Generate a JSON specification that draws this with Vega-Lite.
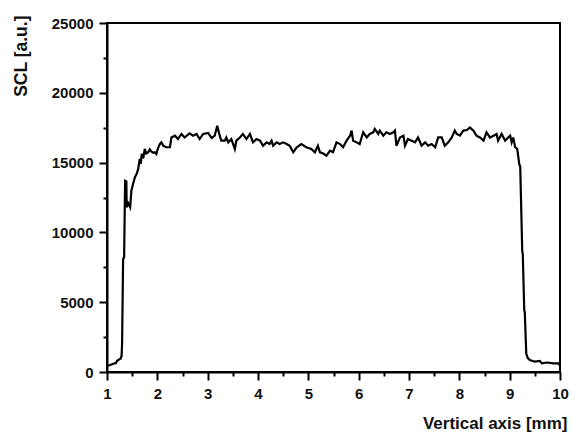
{
  "$schema": "https://vega.github.io/schema/vega-lite/v6.json",
  "autosize": "none",
  "width": 453,
  "height": 349,
  "padding": {"left": 107, "top": 23, "right": 15, "bottom": 60},
  "background": "white",
  "config": {
    "view": {"stroke": "black", "strokeWidth": 2},
    "font": "Liberation Sans"
  },
  "data": {"values": [
    {"mm": 1.0, "scl": 450}, {"mm": 1.05, "scl": 480}, {"mm": 1.1, "scl": 550}, {"mm": 1.15, "scl": 620},
    {"mm": 1.18, "scl": 640}, {"mm": 1.2, "scl": 800}, {"mm": 1.24, "scl": 900}, {"mm": 1.27, "scl": 950},
    {"mm": 1.29, "scl": 1150}, {"mm": 1.3, "scl": 2050}, {"mm": 1.32, "scl": 8100}, {"mm": 1.34, "scl": 8200},
    {"mm": 1.36, "scl": 13700}, {"mm": 1.385, "scl": 13650}, {"mm": 1.39, "scl": 11800}, {"mm": 1.42, "scl": 12100},
    {"mm": 1.46, "scl": 11800}, {"mm": 1.485, "scl": 13000}, {"mm": 1.52, "scl": 13500}, {"mm": 1.555, "scl": 13950},
    {"mm": 1.59, "scl": 14200}, {"mm": 1.62, "scl": 14550}, {"mm": 1.65, "scl": 15260}, {"mm": 1.67, "scl": 14900},
    {"mm": 1.69, "scl": 15620}, {"mm": 1.72, "scl": 15300}, {"mm": 1.75, "scl": 15980}, {"mm": 1.78, "scl": 15650},
    {"mm": 1.82, "scl": 15740}, {"mm": 1.85, "scl": 15950}, {"mm": 1.88, "scl": 15800}, {"mm": 1.92, "scl": 15700},
    {"mm": 1.95, "scl": 15740}, {"mm": 1.98, "scl": 15620}, {"mm": 2.01, "scl": 16000}, {"mm": 2.05, "scl": 16330},
    {"mm": 2.08, "scl": 16450}, {"mm": 2.12, "scl": 16200}, {"mm": 2.18, "scl": 16100}, {"mm": 2.25, "scl": 16100},
    {"mm": 2.28, "scl": 16800}, {"mm": 2.35, "scl": 16930}, {"mm": 2.41, "scl": 16690}, {"mm": 2.48, "scl": 17050},
    {"mm": 2.54, "scl": 16800}, {"mm": 2.64, "scl": 17100}, {"mm": 2.71, "scl": 16930}, {"mm": 2.78, "scl": 17050},
    {"mm": 2.84, "scl": 16690}, {"mm": 2.91, "scl": 17050}, {"mm": 3.01, "scl": 17120}, {"mm": 3.08, "scl": 16760},
    {"mm": 3.14, "scl": 16930}, {"mm": 3.19, "scl": 17640}, {"mm": 3.24, "scl": 16930}, {"mm": 3.27, "scl": 16570},
    {"mm": 3.34, "scl": 16570}, {"mm": 3.37, "scl": 16800}, {"mm": 3.41, "scl": 16450}, {"mm": 3.47, "scl": 16690},
    {"mm": 3.54, "scl": 15980}, {"mm": 3.57, "scl": 16570}, {"mm": 3.64, "scl": 16800}, {"mm": 3.7, "scl": 17050},
    {"mm": 3.77, "scl": 16690}, {"mm": 3.84, "scl": 17050}, {"mm": 3.9, "scl": 16450}, {"mm": 3.97, "scl": 16690},
    {"mm": 4.04, "scl": 16570}, {"mm": 4.1, "scl": 16210}, {"mm": 4.17, "scl": 16450}, {"mm": 4.23, "scl": 16330},
    {"mm": 4.27, "scl": 16570}, {"mm": 4.3, "scl": 16210}, {"mm": 4.37, "scl": 16450}, {"mm": 4.43, "scl": 16330},
    {"mm": 4.5, "scl": 16450}, {"mm": 4.57, "scl": 16330}, {"mm": 4.63, "scl": 16210}, {"mm": 4.7, "scl": 15740},
    {"mm": 4.77, "scl": 16100}, {"mm": 4.86, "scl": 16330}, {"mm": 4.96, "scl": 16100}, {"mm": 5.06, "scl": 15980},
    {"mm": 5.13, "scl": 15740}, {"mm": 5.19, "scl": 16210}, {"mm": 5.23, "scl": 15740}, {"mm": 5.29, "scl": 15670},
    {"mm": 5.36, "scl": 15500}, {"mm": 5.43, "scl": 15860}, {"mm": 5.49, "scl": 15740}, {"mm": 5.56, "scl": 16450},
    {"mm": 5.63, "scl": 16330}, {"mm": 5.69, "scl": 16100}, {"mm": 5.76, "scl": 16570}, {"mm": 5.83, "scl": 16930},
    {"mm": 5.86, "scl": 17290}, {"mm": 5.89, "scl": 16570}, {"mm": 5.96, "scl": 16450}, {"mm": 6.02, "scl": 16330},
    {"mm": 6.09, "scl": 17170}, {"mm": 6.16, "scl": 16800}, {"mm": 6.22, "scl": 17050}, {"mm": 6.29, "scl": 17170},
    {"mm": 6.32, "scl": 17410}, {"mm": 6.39, "scl": 17050}, {"mm": 6.42, "scl": 17290}, {"mm": 6.49, "scl": 16930},
    {"mm": 6.55, "scl": 17170}, {"mm": 6.62, "scl": 17050}, {"mm": 6.69, "scl": 17170}, {"mm": 6.72, "scl": 17290},
    {"mm": 6.75, "scl": 16210}, {"mm": 6.82, "scl": 16800}, {"mm": 6.89, "scl": 16930}, {"mm": 6.92, "scl": 16210},
    {"mm": 6.98, "scl": 16690}, {"mm": 7.05, "scl": 16570}, {"mm": 7.12, "scl": 16450}, {"mm": 7.18, "scl": 16800},
    {"mm": 7.25, "scl": 16210}, {"mm": 7.32, "scl": 16450}, {"mm": 7.38, "scl": 16210}, {"mm": 7.45, "scl": 16330},
    {"mm": 7.52, "scl": 16100}, {"mm": 7.58, "scl": 16800}, {"mm": 7.65, "scl": 16800}, {"mm": 7.71, "scl": 16210},
    {"mm": 7.78, "scl": 16450}, {"mm": 7.85, "scl": 16800}, {"mm": 7.91, "scl": 17290}, {"mm": 7.95, "scl": 17050},
    {"mm": 8.01, "scl": 16930}, {"mm": 8.08, "scl": 17290}, {"mm": 8.15, "scl": 17330}, {"mm": 8.21, "scl": 17520},
    {"mm": 8.28, "scl": 17290}, {"mm": 8.34, "scl": 16930}, {"mm": 8.41, "scl": 16800}, {"mm": 8.48, "scl": 16570},
    {"mm": 8.54, "scl": 17170}, {"mm": 8.61, "scl": 16800}, {"mm": 8.68, "scl": 16930}, {"mm": 8.74, "scl": 17050},
    {"mm": 8.77, "scl": 16570}, {"mm": 8.84, "scl": 17050}, {"mm": 8.91, "scl": 16570}, {"mm": 8.97, "scl": 16800},
    {"mm": 9.01, "scl": 16930}, {"mm": 9.04, "scl": 16450}, {"mm": 9.07, "scl": 16800}, {"mm": 9.11, "scl": 16100},
    {"mm": 9.15, "scl": 15980}, {"mm": 9.19, "scl": 14900}, {"mm": 9.21, "scl": 14700}, {"mm": 9.25, "scl": 8600},
    {"mm": 9.26, "scl": 8500}, {"mm": 9.29, "scl": 4400}, {"mm": 9.3, "scl": 4300}, {"mm": 9.33, "scl": 1300},
    {"mm": 9.36, "scl": 1000}, {"mm": 9.4, "scl": 860}, {"mm": 9.5, "scl": 740}, {"mm": 9.6, "scl": 800},
    {"mm": 9.64, "scl": 620}, {"mm": 9.74, "scl": 680}, {"mm": 9.87, "scl": 620}, {"mm": 9.97, "scl": 620},
    {"mm": 10.0, "scl": 450}
  ]},
  "resolve": {"axis": {"x": "independent", "y": "independent"}},
  "layer": [
    {
      "mark": {"type": "line", "color": "black", "strokeWidth": 2.2, "clip": true},
      "encoding": {
        "x": {
          "field": "mm", "type": "quantitative",
          "scale": {"domain": [1, 10], "nice": false, "zero": false},
          "axis": {
            "orient": "bottom",
            "title": "Vertical axis [mm]",
            "values": [1, 2, 3, 4, 5, 6, 7, 8, 9, 10],
            "format": "d",
            "grid": false,
            "domainColor": "black", "domainWidth": 2,
            "tickColor": "black", "tickWidth": 2, "tickSize": 8,
            "labelFont": "Liberation Sans", "labelFontWeight": "bold", "labelFontSize": 15, "labelColor": "#111",
            "labelPadding": 6, "labelFlush": false,
            "titleFont": "Liberation Sans", "titleFontWeight": "bold", "titleFontSize": 17, "titleColor": "#111",
            "titleAlign": "right", "titleAnchor": "end", "titleBaseline": "alphabetic",
            "titleX": 460, "titleY": 56
          }
        },
        "y": {
          "field": "scl", "type": "quantitative",
          "scale": {"domain": [0, 25000], "nice": false},
          "axis": {
            "orient": "left",
            "title": "SCL [a.u.]",
            "values": [0, 5000, 10000, 15000, 20000, 25000],
            "format": "d",
            "grid": false,
            "domainColor": "black", "domainWidth": 2,
            "tickColor": "black", "tickWidth": 2, "tickSize": 8,
            "labelFont": "Liberation Sans", "labelFontWeight": "bold", "labelFontSize": 15, "labelColor": "#111",
            "labelPadding": 6, "labelFlush": false,
            "titleFont": "Liberation Sans", "titleFontWeight": "bold", "titleFontSize": 17.5, "titleColor": "#111",
            "titleAngle": -90, "titleAlign": "right", "titleBaseline": "alphabetic",
            "titleX": -81, "titleY": -8
          }
        }
      }
    },
    {
      "mark": {"type": "line", "opacity": 0, "clip": true},
      "encoding": {
        "x": {
          "field": "mm", "type": "quantitative",
          "axis": {
            "orient": "bottom",
            "title": null, "values": [1.5, 2.5, 3.5, 4.5, 5.5, 6.5, 7.5, 8.5, 9.5],
            "labels": false, "domain": false, "grid": false,
            "tickColor": "black", "tickWidth": 2, "tickSize": 4
          }
        },
        "y": {
          "field": "scl", "type": "quantitative",
          "axis": {
            "orient": "left",
            "title": null, "values": [2500, 7500, 12500, 17500, 22500],
            "labels": false, "domain": false, "grid": false,
            "tickColor": "black", "tickWidth": 2, "tickSize": 4
          }
        }
      }
    }
  ]
}
